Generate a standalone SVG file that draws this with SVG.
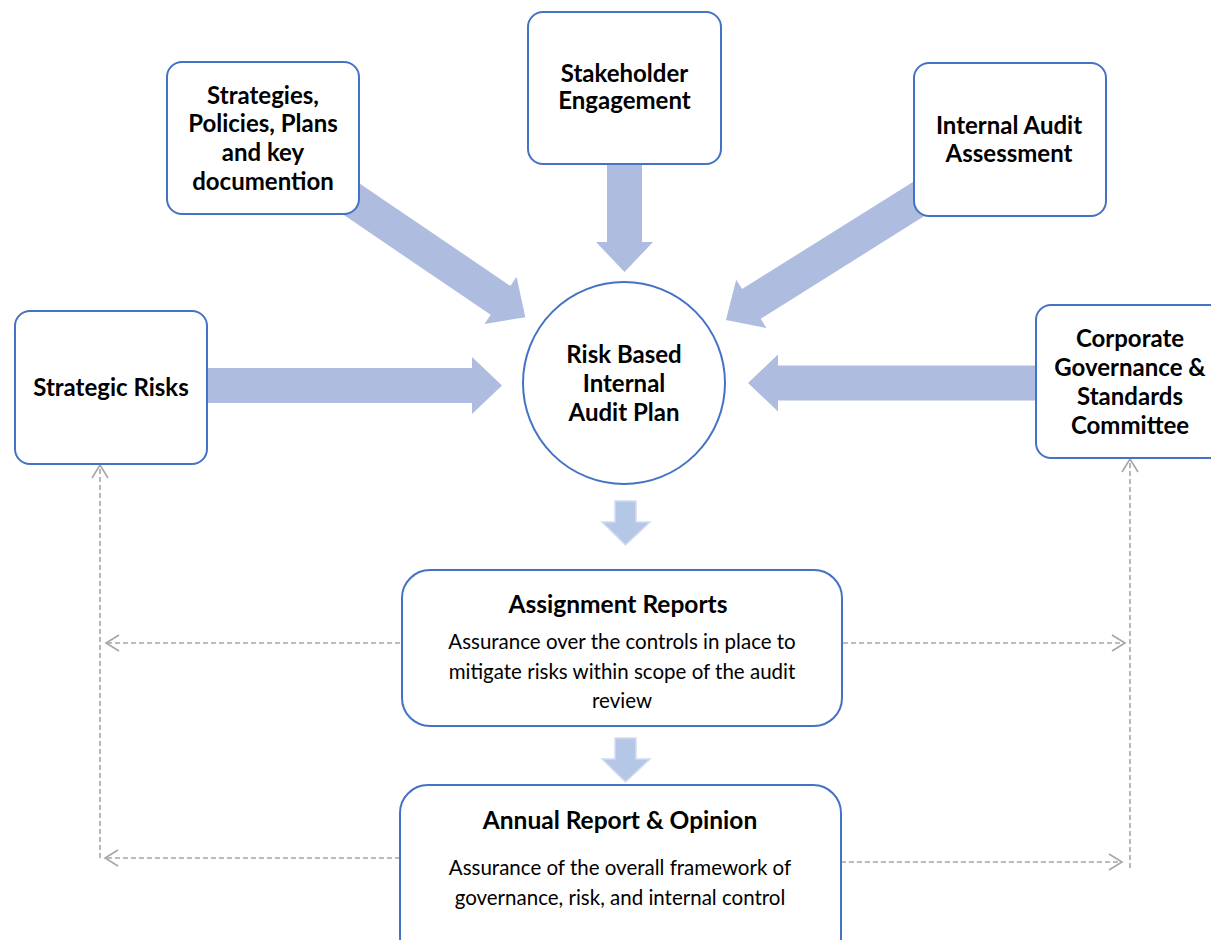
<svg xmlns="http://www.w3.org/2000/svg" width="1211" height="940" viewBox="0 0 1211 940">
<style>
.box{fill:#fff;stroke:#4472C4;stroke-width:2}
.big{fill:#AEBCDF}
.small{fill:#B4C7E7;stroke:#D2DDF1;stroke-width:1.5}
.dash{fill:none;stroke:#A6A6A6;stroke-width:1.6;stroke-dasharray:5 3}
.t{font-family:Lato,"Liberation Sans",sans-serif;font-weight:bold;font-size:24px;fill:#000;text-anchor:middle}
.h{font-family:Lato,"Liberation Sans",sans-serif;font-weight:bold;font-size:24.5px;fill:#000;text-anchor:middle}
.b{font-family:Lato,"Liberation Sans",sans-serif;font-size:20.5px;fill:#000;text-anchor:middle}
</style>
<defs>
<marker id="open" markerUnits="userSpaceOnUse" markerWidth="20" markerHeight="20" refX="14" refY="10" orient="auto" viewBox="0 0 20 20">
<path d="M1,2 L14,10 L1,18" fill="none" stroke="#A6A6A6" stroke-width="1.6"/>
</marker>
</defs>
<rect width="1211" height="940" fill="#fff"/>
<g id="connectors">
<path class="big" transform="translate(340.9,191.9) rotate(34.2)" d="M0,-17.5 L193,-17.5 L193,-28.5 L223,0 L193,28.5 L193,17.5 L0,17.5 Z"/>
<path class="big" transform="translate(624.5,160) rotate(90)" d="M0,-17.5 L82,-17.5 L82,-28.5 L112,0 L82,28.5 L82,17.5 L0,17.5 Z"/>
<path class="big" transform="translate(925,195) rotate(147.9)" d="M0,-17.5 L205,-17.5 L205,-28.5 L235,0 L205,28.5 L205,17.5 L0,17.5 Z"/>
<path class="big" transform="translate(200,385.5)" d="M0,-17.5 L272,-17.5 L272,-28.5 L302,0 L272,28.5 L272,17.5 L0,17.5 Z"/>
<path class="big" transform="translate(1045,383) rotate(180)" d="M0,-17.5 L267,-17.5 L267,-28.5 L297,0 L267,28.5 L267,17.5 L0,17.5 Z"/>
<path class="small" d="M615,501 L636,501 L636,522 L650,522 L625.5,545 L602,522 L615,522 Z"/>
<path class="small" d="M615,738 L636,738 L636,759 L650,759 L625.5,782 L602,759 L615,759 Z"/>
<line class="dash" x1="100" y1="858" x2="100" y2="465" marker-end="url(#open)"/>
<line class="dash" x1="400" y1="643" x2="106" y2="643" marker-end="url(#open)"/>
<line class="dash" x1="400" y1="858" x2="105" y2="858" marker-end="url(#open)"/>
<line class="dash" x1="843" y1="643" x2="1125" y2="643" marker-end="url(#open)"/>
<line class="dash" x1="841" y1="862" x2="1122" y2="862" marker-end="url(#open)"/>
<line class="dash" x1="1130" y1="868" x2="1130" y2="459" marker-end="url(#open)"/>
</g>
<g id="strategies">
<rect class="box" x="167" y="62" width="192" height="152" rx="15"/>
<text class="t" x="263" y="104">Strategies,</text>
<text class="t" x="263" y="132">Policies, Plans</text>
<text class="t" x="263" y="161">and key</text>
<text class="t" x="263" y="190">documention</text>
</g>
<g id="stakeholder">
<rect class="box" x="528" y="12" width="193" height="152" rx="15"/>
<text class="t" x="624.5" y="82">Stakeholder</text>
<text class="t" x="624.5" y="109">Engagement</text>
</g>
<g id="internal-audit">
<rect class="box" x="914" y="63" width="192" height="153" rx="15"/>
<text class="t" x="1009" y="134">Internal Audit</text>
<text class="t" x="1009" y="162">Assessment</text>
</g>
<g id="strategic-risks">
<rect class="box" x="15" y="311" width="192" height="153" rx="15"/>
<text class="t" x="111" y="396">Strategic Risks</text>
</g>
<g id="corporate">
<rect class="box" x="1036" y="305" width="190" height="153" rx="15"/>
<text class="t" x="1130" y="347">Corporate</text>
<text class="t" x="1130" y="376">Governance &amp;</text>
<text class="t" x="1130" y="405">Standards</text>
<text class="t" x="1130" y="434">Committee</text>
</g>
<g id="plan">
<circle class="box" cx="624" cy="383" r="101"/>
<text class="t" x="624" y="363">Risk Based</text>
<text class="t" x="624" y="392">Internal</text>
<text class="t" x="624" y="421">Audit Plan</text>
</g>
<g id="assignment">
<rect class="box" x="402" y="570" width="440" height="156" rx="28"/>
<text class="h" x="618" y="613">Assignment Reports</text>
<text class="b" x="622" y="649">Assurance over the controls in place to</text>
<text class="b" x="622" y="678.5">mitigate risks within scope of the audit</text>
<text class="b" x="622" y="708">review</text>
</g>
<g id="annual">
<rect class="box" x="400" y="785" width="441" height="180" rx="28"/>
<text class="h" x="620" y="829">Annual Report &amp; Opinion</text>
<text class="b" x="620" y="875">Assurance of the overall framework of</text>
<text class="b" x="620" y="905">governance, risk, and internal control</text>
</g>
</svg>
